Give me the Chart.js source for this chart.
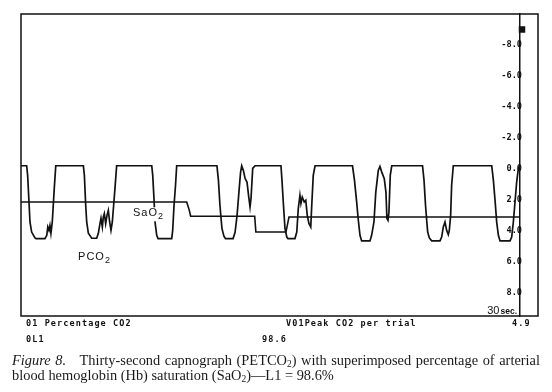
<!DOCTYPE html>
<html>
<head>
<meta charset="utf-8">
<script src="https://cdn.jsdelivr.net/npm/chart.js@4/dist/chart.umd.min.js"></script>
<style>
  html, body { margin: 0; padding: 0; background: #fff; }
  #wrap { position: relative; width: 552px; height: 392px; overflow: hidden; }
  #wrap canvas { position: absolute; left: 0; top: 0; }
  .row { position: absolute; font: bold 8.5px 'DejaVu Sans Mono', monospace; letter-spacing: 1.1px; color: #111; white-space: nowrap; line-height: 10px; }
  .cap { position: absolute; left: 12px; font: 14.4px 'Liberation Serif', serif; color: #1a1a1a; line-height: 15px; white-space: nowrap; display: inline-block; }
  sub { font-size: 9.5px; vertical-align: -2px; line-height: 0; }
</style>
</head>
<body>
<div id="wrap">
  <canvas id="c"></canvas>
  <div class="row" style="left:26px; top:318px;">01 Percentage CO2</div>
  <div class="row" style="left:286px; top:318px;">V01Peak CO2 per trial</div>
  <div class="row" style="left:512px; top:318px;">4.9</div>
  <div class="row" style="left:26px; top:334px;">0L1</div>
  <div class="row" style="left:262px; top:334px;">98.6</div>
  <div class="cap" id="cap1" style="top:353px;"><i>Figure 8.</i>&nbsp;&nbsp; Thirty-second capnograph (PETCO<sub>2</sub>) with superimposed percentage of arterial</div>
  <div class="cap" id="cap2" style="top:368px;">blood hemoglobin (Hb) saturation (SaO<sub>2</sub>)—L1 = 98.6%</div>
</div>
<script>
// ---- data (time in seconds, value on the right-hand scale) ----
const pco2Time = [0,0.34,0.40,0.48,0.54,0.64,0.84,0.90,1.44,1.55,1.61,1.68,1.74,1.80,1.88,2.00,2.09,
  3.75,3.81,3.89,3.95,4.05,4.25,4.55,4.65,4.75,4.81,4.89,4.95,5.01,5.09,5.17,5.25,5.33,5.41,5.49,5.57,5.65,5.75,
  7.86,7.92,8.00,8.06,8.16,8.24,9.06,9.12,9.20,9.29,9.36,
  11.78,11.87,11.96,12.08,12.20,12.29,12.75,12.87,12.99,13.11,13.20,13.27,13.37,13.47,13.59,13.68,13.77,13.83,13.93,14.07,
  15.63,15.69,15.78,15.87,15.98,16.05,16.47,16.58,16.67,16.77,16.83,16.91,17.03,17.12,17.21,17.31,17.42,17.48,17.57,17.68,
  19.93,20.05,20.17,20.28,20.38,20.48,20.98,21.08,21.22,21.33,21.48,21.58,21.69,21.84,21.94,22.00,22.06,22.12,22.20,22.29,
  24.14,24.23,24.32,24.39,24.45,24.55,24.69,25.19,25.29,25.39,25.49,25.59,25.69,25.75,25.83,25.89,25.99,
  28.30,28.40,28.50,28.60,28.70,28.80,29.40,29.50,29.60,29.70,29.80,29.90,29.97];
const pco2Values = [-0.2,-0.2,0.42,2.14,3.43,4.08,4.46,4.5,4.5,4.29,3.75,3.97,3.65,4.16,3.43,1.26,-0.2,
  -0.2,0.42,2.35,3.43,4.16,4.48,4.48,4.16,3.52,3.19,3.75,3.11,2.89,3.54,3.0,2.68,3.43,3.97,3.43,2.35,1.26,-0.2,
  -0.2,0.42,2.03,3.45,4.29,4.5,4.5,3.97,2.35,1.06,-0.2,
  -0.2,0.74,2.35,3.84,4.35,4.5,4.5,4.10,3.0,1.39,0.23,-0.2,0.1,0.61,0.87,1.71,2.46,1.90,-0.03,-0.2,
  -0.2,0.74,2.35,3.84,4.40,4.5,4.5,4.08,2.57,1.71,2.23,1.82,2.14,2.03,3.0,3.52,3.75,2.35,0.42,-0.2,
  -0.2,0.74,2.03,3.32,4.29,4.65,4.65,4.29,3.43,1.50,0.1,-0.16,0.21,0.63,1.50,3.21,3.32,2.81,0.42,-0.2,
  -0.2,0.74,2.35,3.32,4.08,4.46,4.65,4.65,4.40,3.75,3.43,3.97,4.25,3.97,3.0,1.06,-0.2,
  -0.2,0.74,2.03,3.45,4.29,4.65,4.65,4.40,3.43,2.14,0.85,-0.01,-0.2];
const sao2Time = [0, 9.96, 10.1, 10.2, 14.05, 14.12, 15.93, 16.11, 30];
const sao2Values = [2.14, 2.14, 2.6, 3.06, 3.06, 4.08, 4.08, 3.11, 3.11];
const markerTime = [30.12];
const markerValues = [-9];
const yTicks = [-8, -6, -4, -2, 0, 2, 4, 6, 8];
const xRange = [0, 30];
const yRange = [-10, 9.5];
const seriesLabels = { sao2: ['SaO', '2'], pco2: ['PCO', '2'], time: ['30', 'sec.'] };
const labelAnchors = { sao2: [6.73, 2.87], pco2: [3.43, 5.69] };

const zip = (t, v) => t.map((x, i) => ({ x, y: v[i] }));
const ink = '#111';

// fit caption line 1 to the justified width
function fitCaption() {
  const c1 = document.getElementById('cap1');
  c1.style.wordSpacing = '0px';
  const nat = c1.getBoundingClientRect().width;
  const spaces = (c1.textContent.match(/ /g) || []).length;
  c1.style.wordSpacing = ((526 - nat) / spaces) + 'px';
}
fitCaption();
if (document.fonts && document.fonts.ready) document.fonts.ready.then(fitCaption);

const decor = {
  id: 'decor',
  afterDatasetsDraw(chart) {
    const { ctx, chartArea: a, scales: { x, y } } = chart;
    ctx.save();
    const drawLab = (txt, anchor, white) => {
      const px = x.getPixelForValue(anchor[0]);
      const py = y.getPixelForValue(anchor[1]);
      ctx.letterSpacing = '1px';
      ctx.font = "11px 'Liberation Sans', sans-serif";
      const w1 = ctx.measureText(txt[0]).width;
      ctx.font = "9px 'Liberation Sans', sans-serif";
      const w2 = ctx.measureText(txt[1]).width;
      if (white) { ctx.fillStyle = '#fff'; ctx.fillRect(px - 1, py - 6, w1 + w2 + 2, 14); }
      ctx.fillStyle = ink;
      ctx.textBaseline = 'middle';
      ctx.textAlign = 'left';
      ctx.font = "11px 'Liberation Sans', sans-serif";
      ctx.fillText(txt[0], px, py);
      ctx.font = "9px 'Liberation Sans', sans-serif";
      ctx.fillText(txt[1], px + w1, py + 3.5);
    };
    drawLab(seriesLabels.sao2, labelAnchors.sao2, true);
    drawLab(seriesLabels.pco2, labelAnchors.pco2, false);
    ctx.letterSpacing = '0px';
    ctx.fillStyle = ink;
    ctx.textBaseline = 'alphabetic';
    ctx.textAlign = 'right';
    ctx.font = "bold 8.5px 'Liberation Sans', sans-serif";
    const sw = ctx.measureText(seriesLabels.time[1]).width;
    ctx.fillText(seriesLabels.time[1], a.right - 3, a.bottom - 2);
    ctx.font = "11px 'Liberation Sans', sans-serif";
    ctx.fillText(seriesLabels.time[0], a.right - 4 - sw, a.bottom - 2);
    ctx.restore();
  },
  afterDraw(chart) {
    const { ctx, chartArea: a } = chart;
    ctx.save();
    ctx.strokeStyle = ink;
    ctx.lineWidth = 1.5;
    ctx.strokeRect(a.left, a.top, a.right + 18 - a.left, a.bottom - a.top);
    ctx.restore();
  }
};

new Chart(document.getElementById('c'), {
  type: 'line',
  data: {
    datasets: [
      { label: 'PCO2', data: zip(pco2Time, pco2Values), borderColor: ink, borderWidth: 1.7, pointRadius: 0, tension: 0, fill: false },
      { label: 'SaO2', data: zip(sao2Time, sao2Values), borderColor: ink, borderWidth: 1.6, pointRadius: 0, tension: 0, fill: false },
      { label: 'marker', data: zip(markerTime, markerValues), showLine: false, pointStyle: 'rect', pointRadius: 4.6, backgroundColor: ink, borderColor: ink, borderWidth: 0, clip: false }
    ]
  },
  options: {
    responsive: true,
    maintainAspectRatio: false,
    animation: false,
    events: [],
    layout: { padding: { left: 21, top: 14, right: 32, bottom: 76 } },
    plugins: { legend: { display: false }, tooltip: { enabled: false }, title: { display: false } },
    scales: {
      x: { type: 'linear', min: xRange[0], max: xRange[1], display: false },
      y: {
        type: 'linear', position: 'right', reverse: true, min: yRange[0], max: yRange[1],
        afterBuildTicks: (s) => { s.ticks = yTicks.map(v => ({ value: v })); },
        afterFit: (s) => { s.width = 0; },
        grid: { display: false, drawTicks: false, tickLength: 0 },
        border: { display: true, color: ink, width: 1.5 },
        ticks: {
          mirror: true, padding: 2, color: ink,
          font: { family: "'DejaVu Sans Mono', monospace", size: 8.6, weight: 'bold' },
          callback: (v) => Number(v).toFixed(1)
        }
      }
    }
  },
  plugins: [decor]
});
</script>
</body>
</html>
